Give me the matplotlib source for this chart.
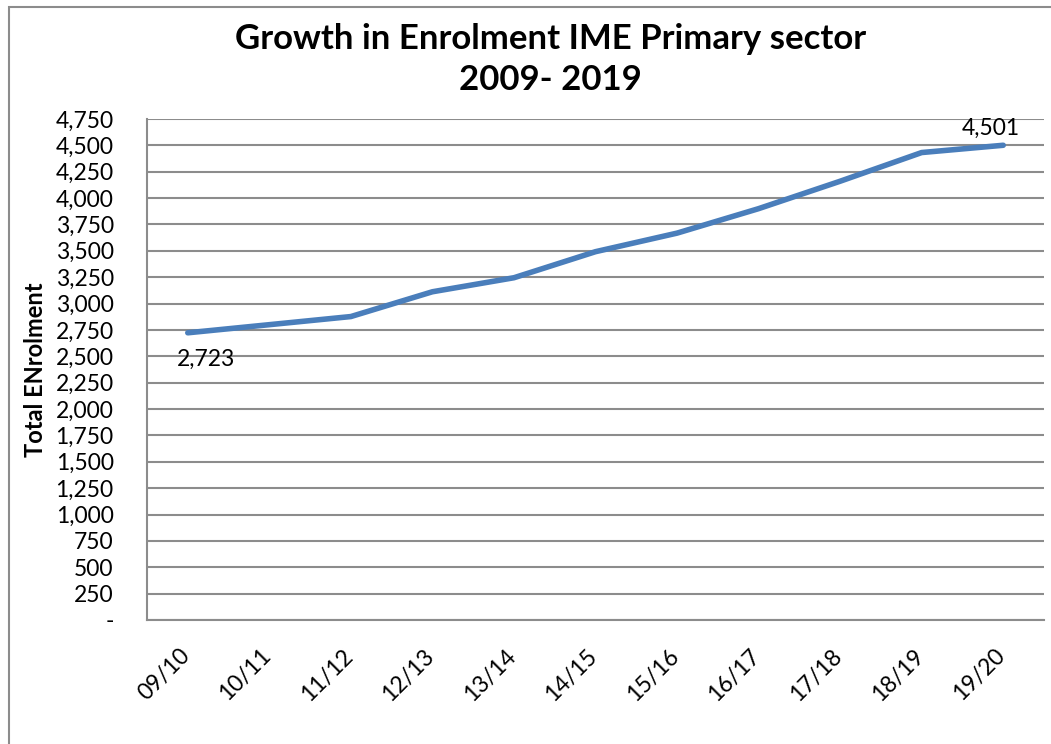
import matplotlib.pyplot as plt
import matplotlib.transforms as mtransforms
from matplotlib.patches import Rectangle
from matplotlib.ticker import FuncFormatter, MultipleLocator

plt.rcParams['font.family'] = ['Lato', 'DejaVu Sans']

years = ["09/10", "10/11", "11/12", "12/13", "13/14", "14/15",
         "15/16", "16/17", "17/18", "18/19", "19/20"]
enrolment = [2723, 2800, 2877, 3112, 3245, 3492, 3668, 3900, 4160, 4432, 4501]

BLUE = "#4a7ebb"
GRID = "#8c8c8c"

fig = plt.figure(figsize=(10.51, 7.44), dpi=100)
ax = fig.add_axes([147 / 1051, 1 - 620 / 744, (1044 - 147) / 1051, (620 - 119) / 744])

x = list(range(len(years)))
ax.plot(x, enrolment, color=BLUE, linewidth=4, solid_capstyle="round")

ax.set_xlim(-0.5, len(years) - 0.5)
ax.set_ylim(0, 4750)
ax.yaxis.set_major_locator(MultipleLocator(250))
ax.yaxis.set_major_formatter(FuncFormatter(lambda v, p: "-" if v == 0 else f"{int(v):,}"))
ax.grid(axis="y", color=GRID, linewidth=1.5)
ax.set_axisbelow(True)

for s in ["top", "right"]:
    ax.spines[s].set_visible(False)
for s in ["left", "bottom"]:
    ax.spines[s].set_color(GRID)
    ax.spines[s].set_linewidth(1.5)

ax.tick_params(axis="y", length=0, labelsize=16.5, pad=24)
ax.tick_params(axis="x", length=0, labelsize=16.5, pad=18)
ax.set_xticks(x)
ax.set_xticklabels(years, rotation=45, ha="right")
offset = mtransforms.ScaledTranslation(6 / 100, 0, fig.dpi_scale_trans)
for lbl in ax.get_xticklabels():
    lbl.set_transform(lbl.get_transform() + offset)

ax.set_ylabel("Total ENrolment", fontsize=17, fontweight="bold")
ax.yaxis.set_label_coords(-100 / 897, 0.5)

# data labels on first and last point
ax.annotate(f"{enrolment[0]:,}", (x[0], enrolment[0]), xytext=(13, -19),
            textcoords="offset points", ha="center", va="center", fontsize=16.5)
ax.annotate(f"{enrolment[-1]:,}", (x[-1], enrolment[-1]), xytext=(-9, 12),
            textcoords="offset points", ha="center", va="center", fontsize=16.5)

fig.text(0.524, 0.948, "Growth in Enrolment IME Primary sector", ha="center", va="center",
         fontsize=25, fontweight="bold")
fig.text(0.524, 0.893, "2009- 2019", ha="center", va="center",
         fontsize=25, fontweight="bold")

# outer chart border
fig.patches.append(Rectangle((9 / 1051, -0.01), 1.05, 1 - 7 / 744 + 0.01, transform=fig.transFigure,
                             fill=False, edgecolor=GRID, linewidth=1.5))

fig.savefig("out.png", dpi=100)
